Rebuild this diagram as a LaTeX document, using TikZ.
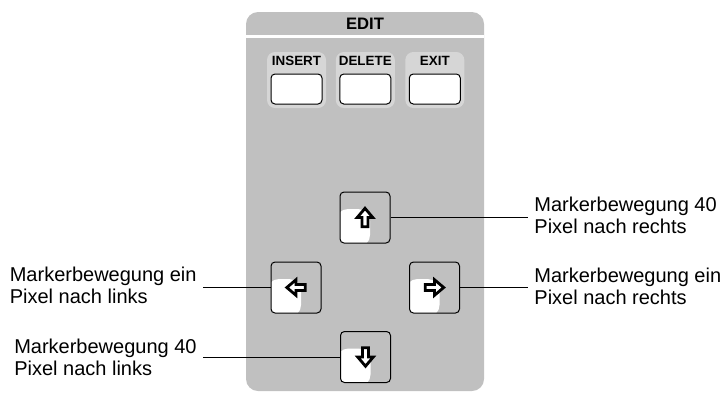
\documentclass[tikz,border=0pt]{standalone}
\usepackage{fontspec}
\setmainfont{Liberation Sans}
\usepackage{xcolor}
\usepackage{tikz}
\usetikzlibrary{calc, positioning}

\definecolor{panelgray}{HTML}{C0C0C0}
\definecolor{padgray}{HTML}{D6D6D6}

\tikzset{
  softkey/.style={draw, fill=white, rounded corners=2pt, line width=0.5pt, minimum width=25.5pt, minimum height=15pt, inner sep=0pt},
  softlabel/.style={font=\fontsize{6.7}{7}\selectfont\bfseries, inner sep=0pt},
  cursorkey/.style={draw, fill=panelgray, rounded corners=2pt, line width=0.5pt, minimum width=25pt, minimum height=25.5pt, inner sep=0pt,
    path picture={\fill[white, rounded corners=6pt] ([xshift=-2pt,yshift=-2pt]path picture bounding box.south west) rectangle ++(17pt,19pt);}},
  callout/.style={align=left, font=\fontsize{10}{11}\selectfont, inner sep=3pt},
  hollowarrow/.pic={\draw[line width=1.4pt, fill=white, line join=miter] (-4.6pt,-1.5pt) -- (0,-1.5pt) -- (0,-3.9pt) -- (4.6pt,0) -- (0,3.9pt) -- (0,1.5pt) -- (-4.6pt,1.5pt) -- cycle;}
}

\begin{document}
\begin{tikzpicture}[x=0.5pt, y=-0.5pt, >=stealth]
            \useasboundingbox (0,0) rectangle (726,392);
            
            % panel
            \fill[panelgray, rounded corners=6pt] (246,12) rectangle (484,391);
            \draw[white, line width=1.2pt] (246,36.5) -- (484,36.5);
            \node[font=\fontsize{8.3}{9}\selectfont\bfseries] (title) at (365,24) {EDIT};
            
            % softkeys
            \foreach \name/\txt/\x in {ins/INSERT/296.5, del/DELETE/365.3, exit/EXIT/434.8} {
                \fill[padgray, rounded corners=4pt] (\x-29.5,52) rectangle (\x+29.5,108);
                \node[softkey] (\name) at (\x,89) {};
                \node[softlabel] (\name lbl) at (\x,61) {\txt};
            }
            
            % cursor keys
            \node[cursorkey] (keyup) at (365,217.5) {};
            \node[cursorkey] (keyleft) at (296,287.5) {};
            \node[cursorkey] (keyright) at (434.5,287.5) {};
            \node[cursorkey] (keydown) at (365.5,357) {};
            \pic[rotate=90] at (keyup) {hollowarrow};
            \pic[rotate=180] at (keyleft) {hollowarrow};
            \pic at (keyright) {hollowarrow};
            \pic[rotate=-90] at (keydown) {hollowarrow};
            
            \node[callout, anchor=west] (upTxt) at (528,215) {Markerbewegung 40\\Pixel nach rechts};
            \node[callout, anchor=west] (rightTxt) at (528,286) {Markerbewegung ein\\Pixel nach rechts};
            \node[callout, anchor=east] (leftTxt) at (203,285) {Markerbewegung ein\\Pixel nach links};
            \node[callout, anchor=east] (downTxt) at (203,357) {Markerbewegung 40\\Pixel nach links};
            
            \draw[line width=0.5pt] (keyup.east) -- (keyup.east -| upTxt.west);
            \draw[line width=0.5pt] (keyright.east) -- (keyright.east -| rightTxt.west);
            \draw[line width=0.5pt] (keyleft.west) -- (keyleft.west -| leftTxt.east);
            \draw[line width=0.5pt] (keydown.west) -- (keydown.west -| downTxt.east);
        \end{tikzpicture}
\end{document}
